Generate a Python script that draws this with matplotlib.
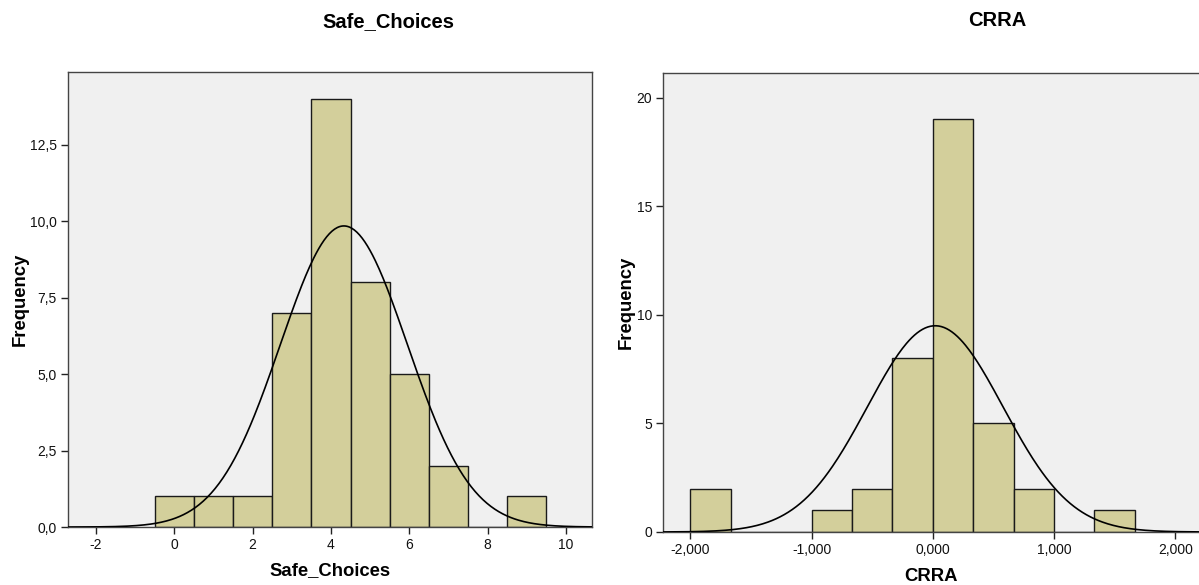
import matplotlib
matplotlib.use("Agg")
import matplotlib.pyplot as plt
import numpy as np

plt.rcParams['font.family'] = ['Liberation Sans', 'DejaVu Sans']

# Safe_Choices histogram (bins of width 1 centred on integers)
safe_values = [0, 1, 2, 3, 4, 5, 6, 7, 8, 9]
safe_counts = [1, 1, 1, 7, 14, 8, 5, 2, 0, 1]
safe_mean = 4.33
safe_sd = 1.62
safe_n = 40
safe_yticks = [0, 2.5, 5, 7.5, 10, 12.5]
safe_ylabels = ['0,0', '2,5', '5,0', '7,5', '10,0', '12,5']
safe_xticks = [-2, 0, 2, 4, 6, 8, 10]
safe_xlabels = ['-2', '0', '2', '4', '6', '8', '10']

# CRRA histogram (bins of width 1/3)
crra_edges = [-2.0, -5 / 3, -4 / 3, -1.0, -2 / 3, -1 / 3, 0.0, 1 / 3, 2 / 3, 1.0, 4 / 3, 5 / 3]
crra_counts = [2, 0, 0, 1, 2, 8, 19, 5, 2, 0, 1]
crra_mean = 0.02
crra_sd = 0.56
crra_n = 40
crra_yticks = [0, 5, 10, 15, 20]
crra_ylabels = ['0', '5', '10', '15', '20']
crra_xticks = [-2, -1, 0, 1, 2]
crra_xlabels = ['-2,000', '-1,000', '0,000', '1,000', '2,000']

bar_color = '#d3cf9b'
bg = '#f0f0f0'
edge = '#1a1a1a'

fig = plt.figure(figsize=(11.99, 5.85), dpi=100)
ax1 = fig.add_axes([0.0567, 0.0991, 0.437, 0.778])
ax2 = fig.add_axes([0.5532, 0.0906, 0.4470, 0.785])


def style(ax):
    ax.set_facecolor(bg)
    for s in ax.spines.values():
        s.set_color('#444444')
        s.set_linewidth(1.0)
    ax.tick_params(direction='out', length=5, width=1, color='#222222',
                   labelsize=10, labelcolor='#111111', pad=3)


# left panel
style(ax1)
ax1.bar(safe_values, safe_counts, width=1.0, color=bar_color, edgecolor=edge, linewidth=1.0, zorder=2)
x = np.linspace(-2.71, 10.66, 400)
y = safe_n * 1.0 / (safe_sd * np.sqrt(2 * np.pi)) * np.exp(-0.5 * ((x - safe_mean) / safe_sd) ** 2)
ax1.plot(x, y, color='black', linewidth=1.2, zorder=3)
ax1.set_xlim(-2.71, 10.66)
ax1.set_ylim(0, 14.89)
ax1.set_xticks(safe_xticks)
ax1.set_xticklabels(safe_xlabels)
ax1.set_yticks(safe_yticks)
ax1.set_yticklabels(safe_ylabels)
ax1.set_xlabel('Safe_Choices', fontsize=13.3, fontweight='bold', labelpad=7)
ax1.set_ylabel('Frequency', fontsize=13.3, fontweight='bold', labelpad=1)
fig.text(388 / 1199, 1 - 22 / 585, 'Safe_Choices', ha='center', va='center', fontsize=14.5, fontweight='bold')

# right panel (cut off at the right edge of the image)
style(ax2)
ax2.spines['right'].set_visible(False)
widths = np.diff(crra_edges)
ax2.bar(crra_edges[:-1], crra_counts, width=widths, align='edge', color=bar_color,
        edgecolor=edge, linewidth=1.0, zorder=2)
x2 = np.linspace(-2.223, 2.198, 400)
bw = 1 / 3
y2 = crra_n * bw / (crra_sd * np.sqrt(2 * np.pi)) * np.exp(-0.5 * ((x2 - crra_mean) / crra_sd) ** 2)
ax2.plot(x2, y2, color='black', linewidth=1.2, zorder=3)
ax2.set_xlim(-2.223, 2.198)
ax2.set_ylim(0, 21.15)
ax2.set_xticks(crra_xticks)
ax2.set_xticklabels(crra_xlabels)
ax2.set_yticks(crra_yticks)
ax2.set_yticklabels(crra_ylabels)
ax2.set_xlabel('CRRA', fontsize=13.3, fontweight='bold', labelpad=8)
ax2.set_ylabel('Frequency', fontsize=13.3, fontweight='bold', labelpad=1)
fig.text(997 / 1199, 1 - 20 / 585, 'CRRA', ha='center', va='center', fontsize=14.5, fontweight='bold')

fig.savefig('out.png', dpi=100)
